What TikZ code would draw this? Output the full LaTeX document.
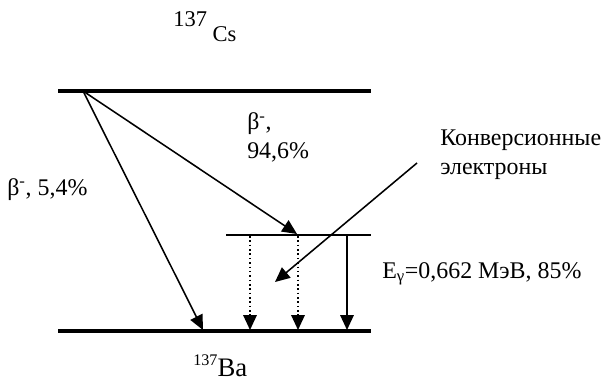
\documentclass[tikz,border=0pt]{standalone}
\usepackage{fontspec}
\setmainfont{Liberation Serif}
\usetikzlibrary{arrows.meta}

\begin{document}
\begin{tikzpicture}[x=0.025cm,y=-0.025cm,
  lvl/.style={line width=3pt},
  sublvl/.style={line width=1pt},
  tr/.style={line width=1.1pt,-{Triangle[length=10.5pt,width=9.5pt]}},
  lbl/.style={anchor=base west,inner sep=0pt,align=left,
    font=\fontsize{17}{20}\selectfont}]
  \useasboundingbox (0,0) rectangle (602,380);
  % levels
  \draw[lvl] (58,91) coordinate (csL) -- (371,91) coordinate (csR);
  \draw[lvl] (58,331) coordinate (baL) -- (371,331) coordinate (baR);
  \draw[sublvl] (226,235) coordinate (exL) -- (371,235) coordinate (exR);
  \coordinate (src) at (83,91);
  \coordinate (exTip) at (297,234);
  \coordinate (gsTip) at (203,330);
  % beta decays
  \draw[tr] (src) -- (exTip);
  \draw[tr] (src) -- (gsTip);
  % transitions to ground state
  \foreach \x/\s in {250/dotted,298/dotted,347/solid}
    \draw[tr,\s] (\x,236) -- (\x,330);
  % conversion electrons
  \coordinate (convStart) at (417,163);
  \coordinate (convTip) at (275,282);
  \draw[tr] (convStart) -- (convTip);
  % labels
  \node[lbl,font=\fontsize{16}{18}\selectfont] (cs) at (173,42)
    {\raisebox{10.7pt}{137} Cs};
  \node[lbl,font=\fontsize{19}{22}\selectfont] (ba) at (193,376)
    {\raisebox{7.8pt}{\fontsize{11.5}{12}\selectfont 137}Ba};
  \node[lbl] (betaMain) at (247,158) {β\textsuperscript{-},\\94,6\%};
  \node[lbl] (betaGs) at (7,195) {β\textsuperscript{-}, 5,4\%};
  \node[lbl] (conv) at (440,174) {Конверсионные\\электроны};
  \node[lbl] (egam) at (382,278) {E\textsubscript{γ}=0,662 МэВ, 85\%};
\end{tikzpicture}
\end{document}
